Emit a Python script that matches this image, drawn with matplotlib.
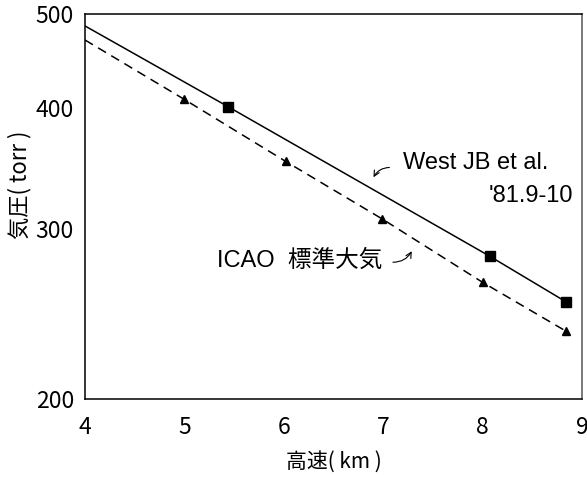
import numpy as np
import matplotlib
matplotlib.use('Agg')
import matplotlib.pyplot as plt
from matplotlib.ticker import FixedLocator, NullLocator

plt.rcParams['font.family'] = ['Noto Sans CJK JP', 'DejaVu Sans']

# West JB et al. '81.9-10 (solid line, squares)
west_x = [4.0, 5.44, 8.07, 8.84]
west_y = [486, 401, 281, 252]
west_mark_x = [5.44, 8.07, 8.84]
west_mark_y = [401, 281, 252]

# ICAO standard atmosphere (dashed line, triangles)
icao_x = [4.0, 5.0, 6.02, 6.99, 8.0, 8.84]
icao_y = [470, 408, 352, 307, 264, 235]
icao_mark_x = [5.0, 6.02, 6.99, 8.0, 8.84]
icao_mark_y = [408, 352, 307, 264, 235]

xticks = [4, 5, 6, 7, 8, 9]
yticks = [200, 300, 400, 500]

fig = plt.figure(figsize=(5.87, 4.78), dpi=100)
ax = fig.add_axes([0.1448, 0.1653, 0.8467, 0.8054])

ax.plot(west_x, west_y, color='black', lw=1.1)
ax.plot(west_mark_x, west_mark_y, 's', color='black', ms=7.8)
ax.plot(icao_x, icao_y, color='black', lw=1.1, ls=(0, (6, 4)))
ax.plot(icao_mark_x, icao_mark_y, '^', color='black', ms=6)

ax.set_yscale('log')
ax.set_xlim(4, 9)
ax.set_ylim(200, 500)
ax.yaxis.set_major_locator(FixedLocator(yticks))
ax.yaxis.set_minor_locator(NullLocator())
ax.set_yticklabels([str(v) for v in yticks])
ax.set_xticks(xticks)
ax.tick_params(length=0, labelsize=16.5)
ax.tick_params(axis='x', pad=12)
ax.tick_params(axis='y', pad=8)
for s in ax.spines.values():
    s.set_linewidth(1.1)
ax.spines['right'].set_color('#555555')

ax.set_xlabel('高速( km )', fontsize=15, labelpad=9)
ax.set_ylabel('気圧( torr )', fontsize=16)
ax.yaxis.set_label_coords(-0.108, 0.556)

tf = ['Liberation Sans', 'Noto Sans CJK JP']
ax.text(7.20, 351, 'West JB et al.', fontsize=17, family=tf, va='center')
ax.text(8.91, 324, "'81.9-10", fontsize=17, family=tf, va='center', ha='right')
ax.text(5.33, 278, 'ICAO  標準大気', fontsize=17, family=tf, va='center')

ax.annotate('', xy=(6.89, 337), xytext=(7.09, 347),
            arrowprops=dict(arrowstyle='->', color='black', lw=0.8,
                            connectionstyle='arc3,rad=0.35'))
ax.annotate('', xy=(7.30, 286), xytext=(7.07, 277),
            arrowprops=dict(arrowstyle='->', color='black', lw=0.8,
                            connectionstyle='arc3,rad=0.35'))

fig.savefig('out.png', dpi=100)
